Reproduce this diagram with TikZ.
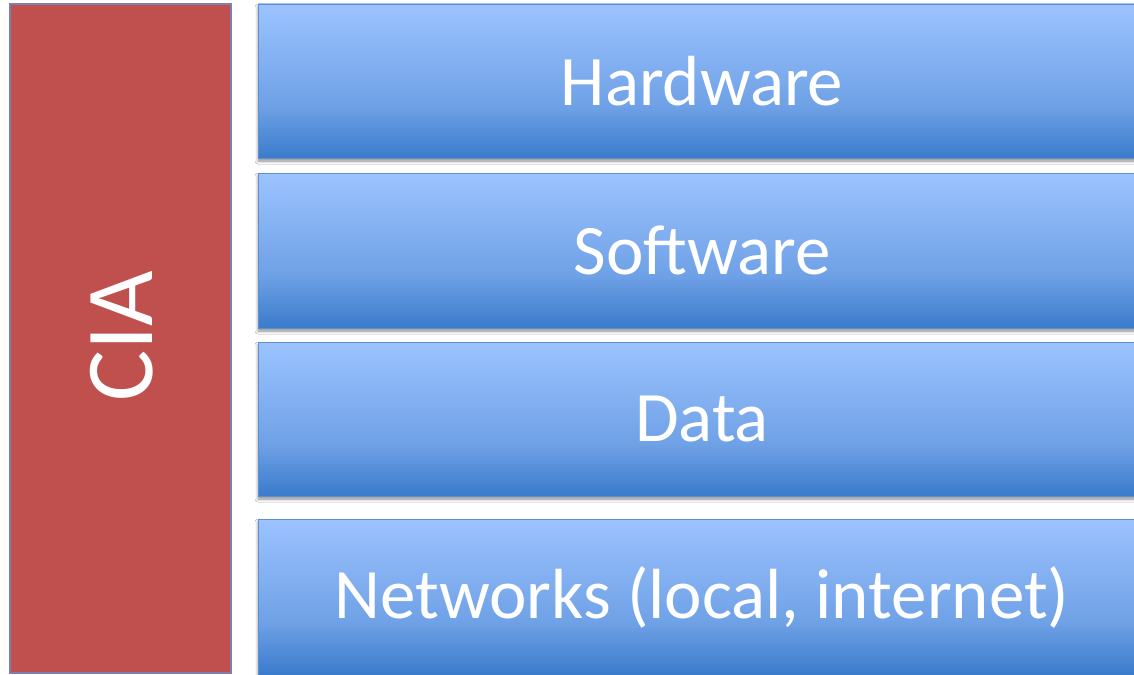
\documentclass[tikz,border=0pt]{standalone}
\usepackage{fontspec}
\setmainfont{Carlito}
\usetikzlibrary{shadows.blur}

\definecolor{barred}{HTML}{C0504D}
\definecolor{baredge}{HTML}{7D7FB3}
\definecolor{boxedge}{HTML}{5B8FD0}
\definecolor{boxtop}{HTML}{9CC3FF}
\definecolor{boxmid}{HTML}{6FA1E6}
\definecolor{boxbot}{HTML}{3A7BCB}

\pgfdeclareverticalshading{layerfill}{100bp}{%
  color(0bp)=(boxbot); color(25bp)=(boxbot); color(42bp)=(boxmid);
  color(75bp)=(boxtop); color(100bp)=(boxtop)}

\tikzset{
  layer/.style={rectangle, inner sep=0pt, minimum width=888pt,
    shading=layerfill, draw=boxedge, line width=0.8pt,
    blur shadow={shadow xshift=0pt, shadow yshift=-3pt,
      shadow blur radius=3pt, shadow opacity=45},
    text=white, font=\fontsize{71}{85}\selectfont},
  ciabar/.style={rectangle, inner sep=0pt, fill=barred, draw=baredge,
    line width=1.5pt},
}

\begin{document}
\begin{tikzpicture}[x=1pt,y=-1pt]
  \useasboundingbox (0,0) rectangle (1134,674);
  \clip (0,0) rectangle (1134,674);
  \fill[white] (0,0) rectangle (1134,674);

  % the CIA bar on the left
  \node[ciabar, minimum width=221pt, minimum height=669pt] (cia) at (120.5,338.5) {};
  \node[rotate=90, text=white, font=\fontsize{96}{115}\selectfont, inner sep=0pt]
    (cialabel) at (122,336) {CIA};

  % the four stacked layers
  \node[layer, minimum height=154pt] (hw)  at (702,81)  {Hardware};
  \node[layer, minimum height=155pt] (sw)  at (702,250.5) {Software};
  \node[layer, minimum height=154pt] (dat) at (702,419) {Data};
  \node[layer, minimum height=156pt] (net) at (702,597) {Networks (local, internet)};
\end{tikzpicture}
\end{document}
